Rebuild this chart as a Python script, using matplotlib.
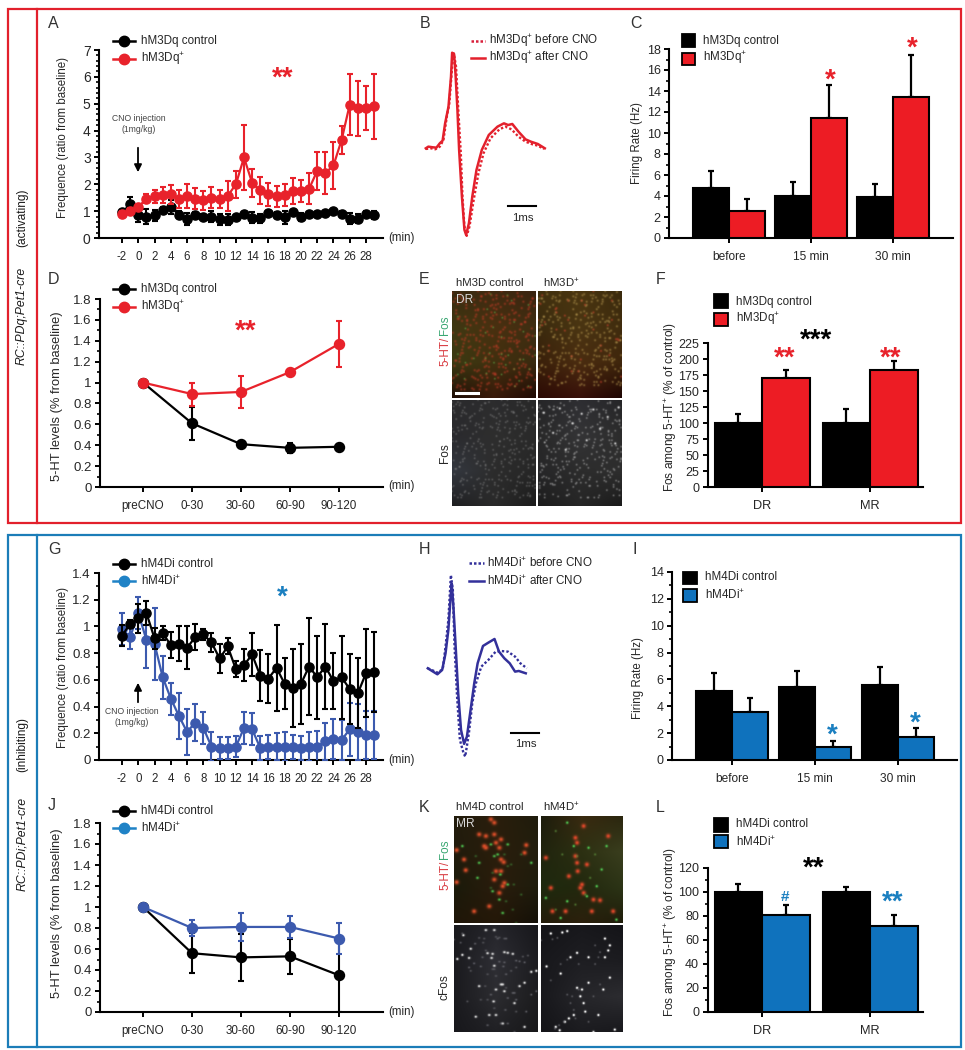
import numpy as np
import matplotlib
matplotlib.use("Agg")
import matplotlib.pyplot as plt
from matplotlib.colors import to_rgb
from matplotlib.patches import Rectangle
from matplotlib.ticker import MultipleLocator

plt.rcParams['font.family'] = ['Liberation Sans', 'DejaVu Sans']
plt.rcParams['mathtext.fontset'] = 'custom'
plt.rcParams['mathtext.rm'] = 'Liberation Sans'
plt.rcParams['mathtext.it'] = 'Liberation Sans:italic'
plt.rcParams['mathtext.bf'] = 'Liberation Sans:bold'
plt.rcParams['mathtext.default'] = 'regular'
plt.rcParams['axes.unicode_minus'] = False

# ---------- data ----------
minutes = list(range(-2, 30))
minute_ticks = list(range(-2, 29, 2))
a_ctrl = [.95,1.25,.85,.8,.85,1.05,1.15,.87,.7,.85,.8,.8,.7,.68,.77,.88,.75,.73,.92,.85,.77,.97,.78,.9,.9,.93,1.0,.9,.72,.72,.9,.85]
a_ctrl_err = [.1,.27,.25,.28,.2,.1,.25,.12,.22,.1,.1,.2,.2,.2,.1,.1,.2,.18,.1,.12,.25,.08,.15,.08,.08,.08,.08,.1,.2,.18,.12,.15]
a_hm3 = [.9,1.0,1.15,1.47,1.55,1.6,1.62,1.45,1.57,1.47,1.4,1.5,1.45,1.57,2.0,3.0,2.05,1.77,1.62,1.55,1.6,1.75,1.75,1.83,2.5,2.42,2.7,3.65,4.97,4.83,4.83,4.9]
a_hm3_err = [.1,.1,.1,.15,.25,.3,.35,.35,.45,.4,.35,.4,.35,.55,.5,1.22,.52,.5,.42,.4,.42,.5,.42,.58,.72,.78,.88,.52,1.12,1.02,.82,1.2]
g_ctrl = [.93,1.02,1.06,1.10,.91,.95,.86,.87,.84,.92,.94,.88,.76,.85,.68,.71,.79,.63,.61,.69,.57,.54,.57,.70,.62,.70,.59,.62,.53,.50,.65,.66]
g_ctrl_err = [.08,.03,.11,.09,.08,.05,.10,.13,.16,.10,.04,.07,.11,.06,.06,.12,.16,.19,.18,.32,.19,.29,.30,.36,.31,.32,.21,.31,.26,.26,.33,.30]
g_hm4 = [.98,.92,1.10,.90,.87,.62,.46,.33,.21,.28,.24,.10,.09,.09,.10,.24,.23,.09,.10,.10,.10,.10,.09,.10,.10,.14,.16,.15,.23,.21,.19,.19]
g_hm4_err = [.12,.09,.12,.21,.27,.16,.12,.17,.17,.14,.12,.11,.08,.08,.08,.12,.12,.09,.09,.10,.11,.09,.09,.11,.12,.14,.15,.15,.20,.21,.18,.18]

periods = ['preCNO', '0-30', '30-60', '60-90', '90-120']
d_ctrl = [1, .61, .41, .375, .385]
d_ctrl_err = [0, .16, .02, .05, .03]
d_hm3 = [1, .89, .91, 1.10, 1.37]
d_hm3_err = [0, .11, .155, .03, .22]
j_ctrl = [1, .56, .52, .53, .35]
j_ctrl_err = [0, .19, .22, .17, .35]
j_hm4 = [1, .80, .81, .81, .70]
j_hm4_err = [0, .075, .13, .105, .145]

rate_groups = ['before', '15 min', '30 min']
c_ctrl = [4.8, 4.0, 3.9]
c_ctrl_top = [6.4, 5.3, 5.1]
c_hm3 = [2.6, 11.4, 13.4]
c_hm3_top = [3.7, 14.6, 17.4]
i_ctrl = [5.15, 5.4, 5.6]
i_ctrl_top = [6.5, 6.6, 6.9]
i_hm4 = [3.6, 1.0, 1.7]
i_hm4_top = [4.6, 1.4, 2.4]

nuclei = ['DR', 'MR']
f_ctrl = [100, 100]
f_ctrl_top = [114, 122]
f_hm3 = [170, 183]
f_hm3_top = [183, 197]
l_ctrl = [100, 100]
l_ctrl_top = [107, 104.5]
l_hm4 = [81, 72]
l_hm4_top = [89, 81]

b_after_t = [0,.09,.25,.38,.5,.6,.69,.81,.9,.94,1.01,1.06,1.13,1.19,1.29,1.38,1.44,1.54,1.66,1.81,2.0,2.25,2.56,2.79,2.94,3.09,3.31,3.56,3.75,4.0,4.25]
b_after_v = [0,.05,.03,.02,.15,.23,.75,1.25,2.15,2.87,2.83,2.25,1.15,-.05,-1.45,-2.45,-2.6,-2.25,-1.45,-.65,-.05,.4,.65,.75,.7,.73,.5,.27,.2,.13,0]
b_before_t = [0,.19,.34,.5,.63,.75,.84,.94,1.0,1.08,1.16,1.25,1.31,1.38,1.46,1.56,1.71,1.88,2.06,2.31,2.63,2.84,3.06,3.31,3.56,3.81,4.0,4.22]
b_before_v = [-.02,0,-.03,.05,.25,.95,1.35,2.45,2.85,2.45,1.15,-.15,-1.45,-2.35,-2.63,-2.35,-1.55,-.75,-.15,.3,.57,.65,.57,.35,.2,.12,.08,-.02]
h_after_t = [0,.15,.34,.51,.63,.73,.82,.85,.91,.99,1.08,1.18,1.29,1.39,1.52,1.65,1.77,1.96,2.15,2.37,2.53,2.72,2.91,3.1,3.23,3.48]
h_after_v = [0,-.08,-.18,-.05,.45,1.15,2.25,2.55,1.85,.65,-.75,-1.85,-2.27,-2.05,-1.25,-.45,.15,.67,.77,.88,.5,.3,.15,-.1,-.08,-.15]
h_before_t = [0,.19,.34,.53,.63,.73,.82,.89,.95,1.04,1.14,1.27,1.33,1.46,1.58,1.71,1.9,2.15,2.41,2.59,2.85,3.1,3.29,3.52]
h_before_v = [0,-.07,-.13,-.03,.65,1.45,2.8,2.35,.65,-.85,-2.15,-2.55,-2.65,-1.95,-1.05,-.45,.05,.25,.5,.52,.5,.35,.15,0]

# microscopy panels: coarse tone grids and spots
e_speckle = [(7,12),(18,31),(26,8),(33,47),(41,22),(52,13),(58,38),(66,9),(74,27),(83,16),(92,41),(96,7),(12,55),(22,68),
             (31,83),(44,59),(49,77),(61,64),(69,88),(78,52),(87,71),(94,90),(5,79),(15,92),(37,34),(55,53),(71,44),(89,58),
             (28,18),(47,4),(63,24),(81,36),(10,40),(39,71),(53,93),(76,80),(91,24),(20,47),(68,56),(35,95)]
e_tl_grid = [['#3a2a10','#3f2a10','#3a2410'],['#3e3812','#4a3010','#3f2e12'],['#3a3a12','#40300f','#3a2a10'],['#1e0d05','#3a1a0a','#1f0a04']]
e_tr_grid = [['#40300f','#4a3510','#3a2a0d'],['#3a2a0e','#4a3512','#402c0e'],['#3a200a','#4a2c10','#3f260c'],['#2c0a04','#38100a','#1e0503']]
e_bl_grid = [['#2a2a2c','#2c2c2e','#282828'],['#2a2a2e','#2e2e2e','#2a2a2a'],['#343840','#2c2c2c','#262626'],['#1e1e20','#2a2a2a','#1c1c1c']]
e_br_grid = [['#262628','#2e2e32','#262628'],['#282828','#343436','#2c2c2c'],['#262628','#2c2c2c','#2e2e2e'],['#1c1c1c','#262626','#1a1a1a']]
k_tl_grid = [['#221c0c','#2a1e0c','#1f1c0c'],['#201b0c','#2a1e0c','#221e0e'],['#1a1a0a','#2a1c0c','#1e1c0c'],['#201608','#241808','#141008']]
k_tr_grid = [['#1c1c0c','#3a2a10','#2a260e'],['#20240e','#2c3012','#3a3e1e'],['#1e2a0e','#22280e','#2c3416'],['#241c0a','#2c200c','#1e1c0a']]
k_bl_grid = [['#1a1a1e','#24242a','#18181c'],['#1a1a1e','#2e2e34','#1c1c20'],['#1a1a1e','#2c2c30','#1c1c1e'],['#18181c','#202024','#18181a']]
k_br_grid = [['#141418','#18181c','#141418'],['#18181c','#1e1e22','#1c1c20'],['#18181c','#26262a','#2c2c30'],['#141418','#1c1c20','#18181c']]
k_tl_red = [(105,70),(130,65),(120,20),(130,30),(105,105),(100,100),(135,90),(145,105),(150,140),(158,148),(135,175),(150,175),(130,200),(160,210),(155,220),(145,240),(70,295),(115,280),(18,112),(18,208),(45,172),(225,97),(220,120),(85,65),(150,80),(40,140)]
k_tl_green = [(120,95),(140,125),(170,95),(35,100),(148,185),(170,215),(125,235),(155,300),(80,195),(240,150),(130,130),(85,150),(145,260)]
k_tr_red = [(475,70),(380,90),(375,75),(400,40),(285,135),(380,150),(382,175),(410,155),(395,215),(390,225),(400,240),(300,225),(305,295),(345,295),(425,295),(430,260),(450,262),(490,295),(375,130),(355,190)]
k_tr_green = [(350,30),(470,100),(415,105),(330,315),(500,320),(370,100),(440,220),(285,255),(410,250),(350,265),(455,170)]
k_bl_white = [(38,370),(35,428),(55,437),(110,423),(122,437),(125,425),(160,420),(170,422),(130,460),(150,515),(155,515),(135,530),(128,565),(115,605),(135,605),(155,630),(85,520),(20,440),(75,610),(190,570),(240,478),(255,475),(205,520),(220,510),(130,355),(105,355),(160,535),(60,410),(185,425),(220,640)]
k_br_white = [(350,358),(335,362),(300,365),(465,380),(380,422),(360,435),(415,435),(465,435),(330,483),(287,462),(380,525),(395,530),(390,550),(400,570),(405,595),(355,615),(343,625),(315,640),(327,650),(495,648),(430,655),(480,495),(460,530),(415,510),(445,605),(480,400),(475,415),(370,605)]

# ---------- styles ----------
W, H = 965, 1050
RED = '#e8222b'
BAR_RED = '#ed1c24'
BLUE_BAR = '#0f72bd'
BLUE_LEG = '#1f82c6'
BLUE_LINE = '#3c5aae'
BLUE_STAR = '#1a7fc0'
FRAME_RED = '#e2202c'
FRAME_BLUE = '#1b7db8'
TXT = '#262626'
SPINE = 1.5

fig = plt.figure(figsize=(W / 100, H / 100), dpi=100, facecolor='white')


def axpx(l, t, r, b, **kw):
    return fig.add_axes([l / W, 1 - b / H, (r - l) / W, (b - t) / H], **kw)


ov = axpx(0, 0, W, H, zorder=20)
ov.set_xlim(0, W)
ov.set_ylim(H, 0)
ov.axis('off')
ov.patch.set_alpha(0)


def style(ax, ysize=9.5):
    for s in ('top', 'right'):
        ax.spines[s].set_visible(False)
    for s in ('left', 'bottom'):
        ax.spines[s].set_linewidth(SPINE)
    ax.tick_params(axis='both', which='major', width=1.4, length=3.5, colors='black', pad=2.5)
    ax.tick_params(axis='y', which='major', labelsize=ysize, labelcolor=TXT)
    ax.tick_params(axis='x', which='major', labelsize=8.3, labelcolor=TXT, pad=6)
    ax.tick_params(axis='y', which='minor', width=1.2, length=2.2)
    ax.patch.set_alpha(0)


def series(ax, x, y, e, color, z, ms=6.8, ecolor=None):
    ax.errorbar(x, y, yerr=e, color=color, ecolor=ecolor or color, lw=1.6, elinewidth=1.5, capsize=2.2, capthick=1.5,
                marker='o', ms=ms, mec=color, zorder=z)


def time_panel(top, bottom, ymax, major, minor, labels, s1, e1, c1, z1, s2, e2, c2, z2, ysize):
    ax = axpx(99, top, 383, bottom)
    ax.set_xlim(-4.83, 30.09)
    ax.set_ylim(0, ymax)
    style(ax, ysize)
    ax.set_xticks(minute_ticks)
    ax.set_yticks(major)
    ax.set_yticklabels(labels)
    ax.yaxis.set_minor_locator(MultipleLocator(minor))
    series(ax, minutes, s1, e1, 'black', z1, 6.6)
    series(ax, minutes, s2, e2, c2, z2, 6.6)
    return ax


def period_panel(top, bottom, s1, e1, s2, e2, c2, z2, ecolor=None):
    ax = axpx(100, top, 383, bottom)
    ax.set_xlim(-0.878, 4.9)
    ax.set_ylim(0, 1.8)
    style(ax, 9.5)
    ax.set_xticks(range(len(periods)))
    ax.set_xticklabels(periods, fontsize=8.4)
    ticks = np.arange(0, 1.81, .2)
    ax.set_yticks(ticks)
    ax.set_yticklabels(['0', '0.2', '0.4', '0.6', '0.8', '1', '1.2', '1.4', '1.6', '1.8'])
    ax.yaxis.set_minor_locator(MultipleLocator(.1))
    series(ax, range(len(periods)), s1, e1, 'black', 3, 7.2)
    series(ax, range(len(periods)), s2, e2, c2, z2, 7.2, ecolor)
    return ax


def bar_panel(rect, xlim, ymax, major, minor, groups, width, s1, t1, s2, t2, c2):
    ax = axpx(*rect)
    ax.set_xlim(*xlim)
    ax.set_ylim(0, ymax)
    style(ax, 9)
    ax.set_xticks(range(len(groups)))
    ax.set_xticklabels(groups, fontsize=8.6 if len(groups) == 3 else 9.2)
    ax.set_yticks(major)
    if minor:
        ax.yaxis.set_minor_locator(MultipleLocator(minor))
    xs = np.arange(len(groups))
    for x, v, top, col, off in [(xs, s1, t1, 'black', -width / 2), (xs, s2, t2, c2, width / 2)]:
        ax.bar(x + off, v, width=width, color=col, edgecolor='black', lw=1.5, zorder=3)
        ax.errorbar(x + off, v, yerr=[np.zeros(len(v)), np.array(top) - np.array(v)], fmt='none', ecolor='black',
                    elinewidth=1.6, capsize=2.2, capthick=1.6, zorder=2)
    return ax


def label(x, y, s, size=8.3, rot=0, ha='center', color=TXT, **kw):
    ov.text(x, y, s, fontsize=size, rotation=rot, ha=ha, va='center', color=color,
            rotation_mode='anchor', **kw)


def stars(x, y, s, color, size=20):
    ov.text(x, y + 0.44 * size * 100 / 72, s, fontsize=size, fontweight='bold', color=color, ha='center', va='baseline')


def line_legend(y1, y2, t1, t2, c2):
    for y, t, c in [(y1, t1, 'black'), (y2, t2, c2)]:
        ov.plot([113, 135], [y, y], color=c, lw=1.8, clip_on=False)
        ov.plot([124], [y], color=c, marker='o', ms=7.5, clip_on=False)
        label(141, y, t, 8.4, ha='left')


def box_legend(x0, x1, boxes, tx, t1, t2, c2):
    for (top, bot), ty, t, c in zip(boxes, tx[1:], (t1, t2), ('black', c2)):
        ov.add_patch(Rectangle((x0, top), x1 - x0, bot - top, fc=c, ec='black', lw=1.3))
        label(tx[0], ty, t, 8.4, ha='left')


def wave(rect_origin, px_ms, px_unit, before, after, color):
    x0, y0 = rect_origin
    ax = axpx(x0 - 5, y0 - 110, x0 + 135, y0 + 110)
    ax.set_xlim(-5 / px_ms, 135 / px_ms)
    ax.set_ylim(-110 / px_unit, 110 / px_unit)
    ax.axis('off')
    ax.plot(*before, color=color, lw=1.7, ls=(0, (1, 0.9)))
    ax.plot(*after, color=color, lw=1.8)


def micro(rect, grid, zx, zy, spots):
    """Blurred photo stand-in: tone grid with soft spots at the listed places."""
    ax = axpx(*rect)
    w, h = int(round(rect[2] - rect[0])), int(round(rect[3] - rect[1]))
    tone = np.array([[to_rgb(c) for c in row] for row in grid])
    rows, cols = tone.shape[:2]
    gy = (np.arange(h) + .5) / h * (rows - 1)
    gx = (np.arange(w) + .5) / w * (cols - 1)
    img = np.zeros((h, w, 3))
    for ch in range(3):
        across = np.array([np.interp(gx, np.arange(cols), tone[r, :, ch]) for r in range(rows)])
        img[:, :, ch] = np.array([np.interp(gy, np.arange(rows), across[:, c]) for c in range(w)]).T
    X, Y = np.meshgrid(np.arange(w) + .5, np.arange(h) + .5)
    for pts, col, sigma, amp in spots:
        rgb = np.array(to_rgb(col))
        for px, py in pts:
            cx = (px - zx[0]) / (zx[1] - zx[0]) * w
            cy = (py - zy[0]) / (zy[1] - zy[0]) * h
            al = amp * np.exp(-((X - cx) ** 2 + (Y - cy) ** 2) / (2 * sigma ** 2))
            img = img * (1 - al[..., None]) + rgb * al[..., None]
    ax.imshow(img, aspect='auto', interpolation='bilinear')
    ax.axis('off')


def mirrored(pts, variants, ymax=100):
    out = []
    for variant in variants:
        for x, y in pts:
            for q in ((x, y), (100 - x, y), (x, 100 - y), (y, x)):
                qx, qy = (q[0] + 11 * variant) % 100, (q[1] + 17 * variant) % 100
                if qy <= ymax:
                    out.append((qx, qy))
    return out


# ---------- frames ----------
for top, bot, col in [(9, 523, FRAME_RED), (535, 1047, FRAME_BLUE)]:
    ov.add_patch(Rectangle((7.5, top), 953, bot - top, fc='none', ec=col, lw=1.6))
    ov.plot([36.5, 36.5], [top, bot], color=col, lw=1.6)

label(22, 218, '(activating)', 8.6, 90, color='#1a1a1a')
label(22, 316, 'RC::PDq;Pet1-cre', 8.8, 90, style='italic', color='#1a1a1a')
label(22, 745, '(inhibiting)', 8.6, 90, color='#1a1a1a')
label(22, 844, 'RC::PDi;Pet1-cre', 8.8, 90, style='italic', color='#1a1a1a')

# ---------- panel letters ----------
for s, x, y in [('A', 48, 24), ('B', 420, 23), ('C', 630, 24), ('D', 48, 280), ('E', 419, 280), ('F', 656, 280),
                ('G', 48, 550), ('H', 419, 550), ('I', 633, 550), ('J', 48, 806), ('K', 419, 807), ('L', 656, 807)]:
    label(x, y, s, 11.5, ha='left', color='#333333')

# ---------- time courses ----------
time_panel(50, 238, 7, list(range(8)), .2, [str(i) for i in range(8)], a_ctrl, a_ctrl_err, 'black', 3, a_hm3, a_hm3_err, RED, 4, 10)
label(63, 138, 'Frequence (ratio from baseline)', 8.3, 90)
line_legend(41, 59, 'hM3Dq control', 'hM3Dq$^{+}$', RED)
stars(283, 73, '**', RED)
label(388, 238, '(min)', 8.3, ha='left')
label(139, 124, 'CNO injection\n(1mg/kg)', 6.2, color='#444444')
ov.annotate('', xy=(138, 175), xytext=(138, 145), arrowprops=dict(arrowstyle='-|>', color='black', lw=1.3, mutation_scale=11))

time_panel(573, 760, 1.4, list(np.arange(0, 1.41, .2)), .1, ['0', '0.2', '0.4', '0.6', '0.8', '1', '1.2', '1.4'],
           g_ctrl, g_ctrl_err, 'black', 4, g_hm4, g_hm4_err, BLUE_LINE, 3, 9.5)
label(63, 668, 'Frequence (ratio from baseline)', 8.3, 90)
line_legend(564, 581, 'hM4Di control', 'hM4Di$^{+}$', BLUE_LEG)
stars(282, 592, '*', BLUE_STAR)
label(388, 760, '(min)', 8.3, ha='left')
label(132, 717, 'CNO injection\n(1mg/kg)', 6.2, color='#444444')
ov.annotate('', xy=(138, 680), xytext=(138, 705), arrowprops=dict(arrowstyle='-|>', color='black', lw=1.3, mutation_scale=11))

period_panel(299, 487, d_ctrl, d_ctrl_err, d_hm3, d_hm3_err, RED, 4)
label(57, 396, '5-HT levels (% from baseline)', 9.3, 90)
line_legend(289, 307, 'hM3Dq control', 'hM3Dq$^{+}$', RED)
stars(246, 326, '**', RED)
label(388, 486, '(min)', 8.3, ha='left')

period_panel(823, 1012, j_ctrl, j_ctrl_err, j_hm4, j_hm4_err, BLUE_LINE, 4)
label(57, 913, '5-HT levels (% from baseline)', 9.3, 90)
line_legend(811, 828, 'hM4Di control', 'hM4Di$^{+}$', BLUE_LEG)
label(388, 1012, '(min)', 8.3, ha='left')

# ---------- waveforms ----------
wave((425.8, 148.3), 28, 33.3, (b_before_t, b_before_v), (b_after_t, b_after_v), '#e3202c')
for y, t, ls in [(41, 'hM3Dq$^{+}$ before CNO', (0, (1, 0.8))), (58, 'hM3Dq$^{+}$ after CNO', '-')]:
    ov.plot([471, 485], [y, y], color='#d81f3a' if y == 41 else '#e3202c', lw=1.8, ls=ls)
    label(489, y, t, 8.4, ha='left')
ov.plot([507.5, 535.6], [206, 206], color='black', lw=1.5)
label(523, 218, '1ms', 8.2)

wave((427.8, 668.3), 28.15, 33.3, (h_before_t, h_before_v), (h_after_t, h_after_v), '#33309a')
for y, t, ls in [(563, 'hM4Di$^{+}$ before CNO', (0, (1, 0.8))), (581, 'hM4Di$^{+}$ after CNO', '-')]:
    ov.plot([469, 484], [y, y], color='#33309a', lw=1.8, ls=ls)
    label(487, y, t, 8.4, ha='left')
ov.plot([511, 539], [733, 733], color='black', lw=1.5)
label(526, 744, '1ms', 8.2)

# ---------- firing-rate bars ----------
bar_panel((669, 49, 953, 238), (-.73, 2.73), 18, list(range(0, 19, 2)), 1, rate_groups, .435, c_ctrl, c_ctrl_top, c_hm3, c_hm3_top, BAR_RED)
label(637, 143, 'Firing Rate (Hz)', 8.3, 90)
box_legend(682, 695, [(34, 47), (53, 65)], (703, 41, 58), 'hM3Dq control', 'hM3Dq$^{+}$', BAR_RED)
stars(830, 75, '*', RED)
stars(912, 43, '*', RED)

bar_panel((672, 572, 957, 760), (-.72, 2.71), 14, list(range(0, 15, 2)), 1, rate_groups, .43, i_ctrl, i_ctrl_top, i_hm4, i_hm4_top, BLUE_BAR)
label(638, 678, 'Firing Rate (Hz)', 8.3, 90)
box_legend(683, 697, [(572, 584), (589, 602)], (705, 577, 595), 'hM4Di control', 'hM4Di$^{+}$', BLUE_BAR)
stars(832, 730, '*', BLUE_STAR)
stars(915, 718, '*', BLUE_STAR)

# ---------- Fos bars ----------
bar_panel((707.5, 343, 923, 487), (-.505, 1.49), 225, list(range(0, 226, 25)), None, nuclei, .44, f_ctrl, f_ctrl_top, f_hm3, f_hm3_top, BAR_RED)
label(671, 407, 'Fos among 5-HT$^{+}$ (% of control)', 8.6, 90)
box_legend(713.5, 727.5, [(294, 308), (313, 326)], (735.6, 302, 319), 'hM3Dq control', 'hM3Dq$^{+}$', BAR_RED)
stars(816, 335, '***', 'black', 20)
stars(785, 353, '**', RED)
stars(891, 353, '**', RED)

bar_panel((707.5, 868, 923, 1012), (-.505, 1.49), 120, list(range(0, 121, 20)), 10, nuclei, .44, l_ctrl, l_ctrl_top, l_hm4, l_hm4_top, BLUE_BAR)
label(671, 932, 'Fos among 5-HT$^{+}$ (% of control)', 8.6, 90)
box_legend(713.5, 727.5, [(818, 832), (835, 848)], (735.6, 824, 842), 'hM4Di control', 'hM4Di$^{+}$', BLUE_BAR)
stars(814, 863, '**', 'black', 20)
stars(892.5, 897, '**', BLUE_STAR)
label(785, 897, '#', 11, color=BLUE_STAR, fontweight='bold')

# ---------- microscopy ----------
pct = ((0, 100), (0, 100))
micro((452, 291, 536, 398), e_tl_grid, *pct, [(mirrored(e_speckle, [0, 2], 92), '#c23a26', .95, .42), (mirrored(e_speckle[:10], [3], 90), '#5fae4a', .8, .4)])
micro((538, 291, 622, 398), e_tr_grid, *pct, [(mirrored(e_speckle, [1, 3], 88), '#b0924c', .9, .42), (mirrored(e_speckle[10:20], [4], 85), '#c8432c', .9, .45)])
micro((452, 400, 536, 506), e_bl_grid, *pct, [(mirrored(e_speckle, [2, 4], 92), '#8a8a8a', .8, .32)])
micro((538, 400, 622, 506), e_br_grid, *pct, [(mirrored(e_speckle, [5, 6], 92), '#b5b5b5', .8, .38), (e_speckle[:12], '#e8e8e8', .9, .7)])
micro((454, 816, 537, 923), k_tl_grid, (10, 260), (10, 330), [(k_tl_red, '#e2502a', 1.6, .95), (k_tl_green, '#4fc24f', 1.0, .9), ([(x + 40, y + 30) for x, y in k_tl_green], '#3c7a34', .9, .6)])
micro((541, 816, 623, 923), k_tr_grid, (270, 520), (10, 330), [(k_tr_red, '#e2482a', 1.6, .95), (k_tr_green, '#4fc24f', 1.0, .9), ([(x - 35, y + 25) for x, y in k_tr_green], '#5a8a3a', .9, .6)])
micro((454, 925, 537, 1032), k_bl_grid, (10, 260), (340, 655), [(k_bl_white, '#e4e4e4', .9, .95), ([(x + 35, y + 25) for x, y in k_bl_white], '#77777f', .8, .6), ([(x - 25, y - 45) for x, y in k_bl_white], '#66666c', .8, .6)])
micro((541, 925, 623, 1032), k_br_grid, (270, 520), (340, 655), [(k_br_white, '#ececec', .9, 1.0), ([(x - 30, y + 20) for x, y in k_br_white], '#66666c', .8, .6)])

label(456, 283, 'hM3D control', 8.2, ha='left')
label(543, 283, 'hM3D$^{+}$', 8.2, ha='left')
label(456, 300, 'DR', 8.6, ha='left', color='#d8d8d8')
ov.plot([456, 478], [393, 393], color='white', lw=2.2)
label(445, 366, '5-HT/', 8.4, 90, ha='left', color='#d8393f')
label(445, 335, 'Fos', 8.4, 90, ha='left', color='#3aa772')
label(445, 453, 'Fos', 8.6, 90)

label(456, 807, 'hM4D control', 8.2, ha='left')
label(543, 807, 'hM4D$^{+}$', 8.2, ha='left')
label(456, 824, 'MR', 8.6, ha='left', color='#d8d8d8')
label(445, 890, '5-HT/', 8.4, 90, ha='left', color='#d8393f')
label(445, 859, 'Fos', 8.4, 90, ha='left', color='#3aa772')
label(445, 987, 'cFos', 8.6, 90)

fig.savefig('out.png', dpi=100)
